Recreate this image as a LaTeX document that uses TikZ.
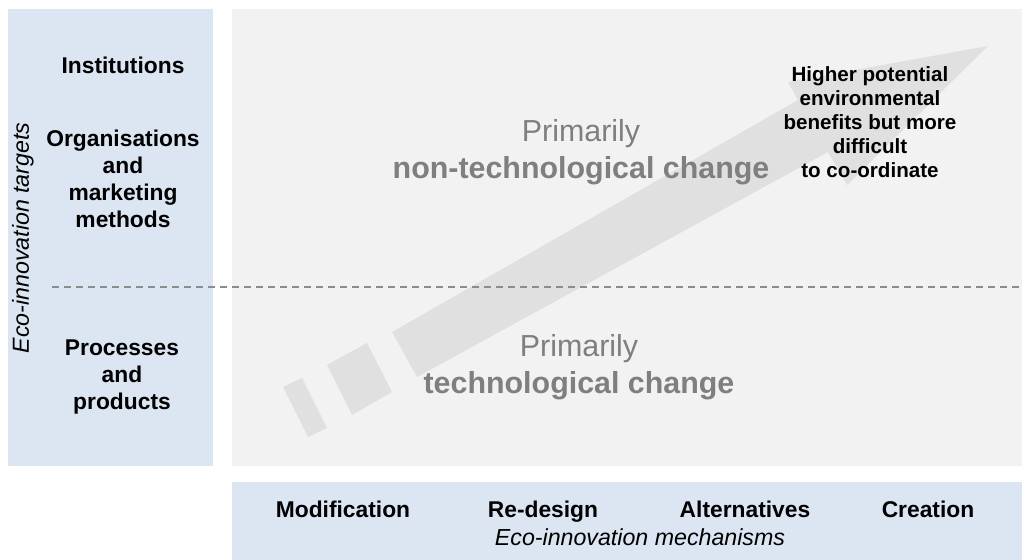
\documentclass[tikz,border=0pt]{standalone}
\usepackage{fontspec}
\setmainfont{Liberation Sans}
\usepackage{tikz}
\usetikzlibrary{calc}
\definecolor{panelblue}{HTML}{DCE6F2}
\definecolor{panelgray}{HTML}{F2F2F2}
\definecolor{arrowgray}{HTML}{E0E0E0}
\definecolor{labelgray}{HTML}{7F7F7F}
\definecolor{dashgray}{HTML}{8C8C8C}
\tikzset{target/.style={align=center, font=\bfseries\fontsize{11.4}{13.5}\selectfont},
         mech/.style={anchor=base, font=\bfseries\fontsize{11.4}{13.5}\selectfont},
         change/.style={align=center, text=labelgray, font=\fontsize{15.2}{18.3}\selectfont},
         benefit/.style={align=center, font=\bfseries\fontsize{10.3}{12}\selectfont},
         axislabel/.style={font=\itshape\fontsize{11.6}{13.5}\selectfont}}

\begin{document}
\begin{tikzpicture}[x=0.5pt, y=-0.5pt]
                \useasboundingbox (0,0) rectangle (1025,560);
                % panels
                \fill[panelblue] (8,9) rectangle (213,466);
                \fill[panelgray] (232,9) rectangle (1022,466);
                \fill[panelblue] (232,482) rectangle (1022,560);
                % the big arrow and its broken tail
                \fill[arrowgray] (392,332) -- (798,100) -- (788,82) -- (988,46) -- (847,185) -- (828,152) -- (417,377) -- cycle;
                \fill[arrowgray] (327,365) -- (367,343) -- (392,392) -- (352,415) -- cycle;
                \fill[arrowgray] (283,387) -- (302,378) -- (327,428) -- (308,437) -- cycle;
                \coordinate (divl) at (52,287);
                \coordinate (divr) at (1022,287);
                \draw[dashgray, line width=0.65pt, dash pattern=on 3.5pt off 2.5pt] (divl) -- (divr);
                % targets
                \node (targets) [axislabel, rotate=90] at (23,238) {Eco-innovation targets};
                \node (inst) [target] at (123,65)    {Institutions};
                \node (org)  [target] at (123,179)   {Organisations\\and\\marketing\\methods};
                \node (proc) [target] at (122,377)   {Processes\\and\\products};
                % kinds of change
                \node (nontech) [change] at (581,152) {Primarily\\\textbf{non-technological change}};
                \node (tech)    [change] at (579,367) {Primarily\\\textbf{technological change}};
                \node (gain)    [benefit] at (870,122) {Higher potential\\environmental\\benefits but more\\difficult\\to co-ordinate};
                % mechanisms
                \node (mod)      [mech] at (343,518) {Modification};
                \node (redesign) [mech] at (543,518) {Re-design};
                \node (alt)      [mech] at (745,518) {Alternatives};
                \node (create)   [mech] at (928,518) {Creation};
                \node (mechs)    [axislabel] at (640,537) {Eco-innovation mechanisms};
              \end{tikzpicture}
\end{document}
